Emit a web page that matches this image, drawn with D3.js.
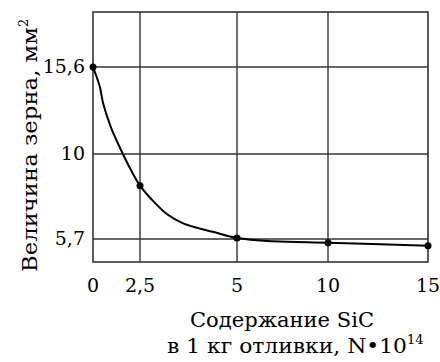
<!DOCTYPE html>
<html>
<head>
<meta charset="utf-8">
<script src="https://cdn.jsdelivr.net/npm/d3@7"></script>
<style>
  body { margin: 0; background: #fff; }
  svg { display: block; }
</style>
</head>
<body>
<div id="container"></div>
<script>
// measured points (markers)
let xVals = [0, 2.5, 5, 10, 15]
let yVals = [15.6, 8.4, 5.75, 5.5, 5.35]
// points along the drawn curve
let curveX = [0, 0.37, 0.53, 0.96, 1.49, 2.02, 2.5, 2.8, 3.2, 3.6, 4.0, 4.4, 5, 7, 10, 15]
let curveY = [15.6, 14.3, 13.3, 11.7, 10.26, 9.19, 8.4, 7.7, 6.95, 6.5, 6.25, 6.05, 5.75, 5.58, 5.5, 5.35]
let xTicks = [0, 2.5, 5, 10, 15]
let yTicks = [5.7, 10, 15.6]
let xTickLabels = ["0", "2,5", "5", "10", "15"]
let yTickLabels = ["5,7", "10", "15,6"]

let w = 440, h = 362
let font = "'DejaVu Serif', 'Liberation Serif', serif"

let svg = d3.select("#container").append("svg")
    .attr("width", w)
    .attr("height", h)

// axes in the source are not linear, so piecewise scales
let x = d3.scaleLinear()
    .domain(xTicks)
    .range([93, 140, 237, 328, 428])

let y = d3.scaleLinear()
    .domain([4.5, 5.7, 10, 15.6, 19.1])
    .range([262, 239, 154, 67, 12])

let pLeft = x(0), pRight = x(15), pTop = y(19.1), pBottom = y(4.5)

// grid
svg.selectAll(".vgrid")
    .data(xTicks.slice(1, -1))
    .enter().append("line")
    .attr("x1", d => x(d)).attr("x2", d => x(d))
    .attr("y1", pTop).attr("y2", pBottom)
    .attr("stroke", "#333").attr("stroke-width", 1.4)

svg.selectAll(".hgrid")
    .data(yTicks)
    .enter().append("line")
    .attr("x1", pLeft).attr("x2", pRight)
    .attr("y1", d => y(d)).attr("y2", d => y(d))
    .attr("stroke", "#333").attr("stroke-width", 1.4)

// frame
svg.append("rect")
    .attr("x", pLeft).attr("y", pTop)
    .attr("width", pRight - pLeft).attr("height", pBottom - pTop)
    .attr("fill", "none")
    .attr("stroke", "#333").attr("stroke-width", 1.6)

// curve
let line = d3.line()
    .x(d => x(d[0]))
    .y(d => y(d[1]))
    .curve(d3.curveCatmullRom.alpha(0.5))

svg.append("path")
    .datum(d3.zip(curveX, curveY))
    .attr("d", line)
    .attr("fill", "none")
    .attr("stroke", "#000")
    .attr("stroke-width", 2)

svg.selectAll(".pt")
    .data(d3.zip(xVals, yVals))
    .enter().append("circle")
    .attr("cx", d => x(d[0]))
    .attr("cy", d => y(d[1]))
    .attr("r", 3.5)
    .attr("fill", "#000")

// tick labels
svg.selectAll(".xt")
    .data(xTicks)
    .enter().append("text")
    .text((d, i) => xTickLabels[i])
    .attr("x", d => x(d))
    .attr("y", 292)
    .attr("text-anchor", "middle")
    .attr("font-family", font)
    .attr("font-size", 19)

svg.selectAll(".yt")
    .data(yTicks)
    .enter().append("text")
    .text((d, i) => yTickLabels[i])
    .attr("x", 85)
    .attr("y", d => y(d) + 6)
    .attr("text-anchor", "end")
    .attr("font-family", font)
    .attr("font-size", 19)

// axis titles
svg.append("text")
    .text("Содержание SiC")
    .attr("x", 190).attr("y", 327)
    .attr("textLength", 184)
    .attr("lengthAdjust", "spacingAndGlyphs")
    .attr("font-family", font)
    .attr("font-size", 20)

let t2 = svg.append("text")
    .attr("x", 167).attr("y", 353)
    .attr("font-family", font)
    .attr("font-size", 20)
t2.append("tspan").text("в 1 кг отливки, N•10")
    .attr("textLength", 240)
    .attr("lengthAdjust", "spacingAndGlyphs")
t2.append("tspan").text("14").attr("font-size", 13).attr("dy", -9)

let yt = svg.append("text")
    .attr("transform", "translate(37,272) rotate(-90)")
    .attr("font-family", font)
    .attr("font-size", 20)
yt.append("tspan").text("Величина зерна, мм")
    .attr("textLength", 245)
    .attr("lengthAdjust", "spacingAndGlyphs")
yt.append("tspan").text("2").attr("font-size", 13).attr("dy", -9)
</script>
</body>
</html>
